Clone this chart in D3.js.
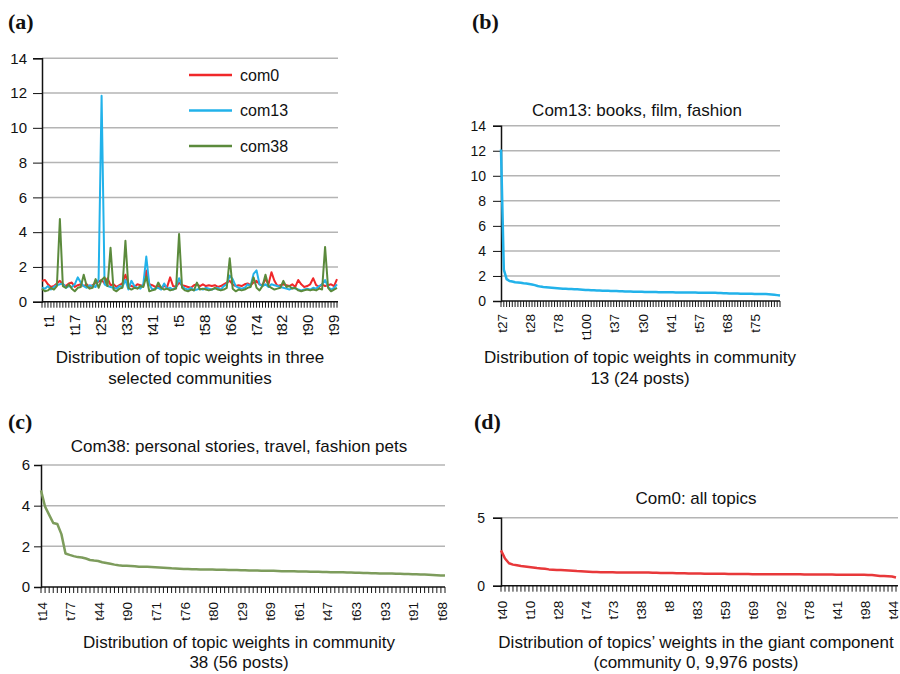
<!DOCTYPE html>
<html>
<head>
<meta charset="utf-8">
<script src="https://cdn.jsdelivr.net/npm/d3@7"></script>
<style>
body { margin: 0; background: #fff; }
svg { display: block; font-family: "Liberation Sans", Arial, sans-serif; }
</style>
</head>
<body>
<svg id="chart" width="900" height="674"></svg>
<script>
// topics t1..t100 in the spreadsheet's text order (t1, t10, t100, t11 ...)
var topics = d3.range(1, 101).map(function(i){ return "t" + i; }).sort();

var com0 = [1.2,1.25,1.0,0.85,0.9,1.05,1.2,1.0,0.9,1.05, 1.1,0.85,0.95,1.0,0.9,1.0,0.85,0.95,1.1,1.15,
	1.25,1.05,1.35,0.95,1.0,0.85,0.95,1.05,1.55,1.0, 0.9,0.85,1.0,0.95,0.9,1.8,1.0,0.95,0.85,0.9,
	0.8,0.9,0.85,1.4,0.9,0.85,1.1,0.95,0.9,0.85, 0.8,0.95,1.0,0.9,1.0,0.9,0.95,0.9,0.95,0.85,
	0.9,1.0,1.1,1.2,1.0,0.9,0.95,0.9,1.0,1.05, 0.95,1.1,1.2,1.0,0.95,1.3,1.0,1.7,1.2,0.9,
	0.95,1.0,0.95,0.9,1.0,0.85,1.25,1.0,0.85,0.9, 1.0,1.35,0.95,0.85,1.0,0.9,0.95,1.0,0.9,1.3];
var com13 = [0.8,0.75,0.9,0.7,0.85,0.95,1.0,1.05,0.8,0.9, 0.85,1.0,1.4,1.1,0.9,0.8,0.95,0.9,0.85,1.3,
	11.85,1.0,0.9,0.85,0.8,0.75,0.9,0.85,1.25,0.7, 1.2,0.9,0.8,0.75,1.0,2.6,1.0,0.7,0.75,0.8,
	0.7,1.05,0.75,0.8,0.7,0.85,1.35,0.9,0.75,0.7, 0.8,0.65,0.7,0.75,0.7,0.8,0.75,0.7,0.75,0.8,
	0.7,0.9,1.0,1.5,1.3,0.9,0.8,0.75,0.8,1.0, 0.9,1.6,1.8,1.0,0.9,1.0,0.85,1.0,0.95,0.9,
	0.85,0.8,0.75,0.7,0.8,0.75,0.7,0.65,0.7,0.75, 0.7,0.8,0.75,0.9,1.0,1.25,0.85,0.7,0.8,1.0];
var com38 = [0.75,0.6,0.65,0.8,0.7,0.9,4.75,0.9,0.8,1.0, 0.75,0.6,0.8,0.85,1.55,0.9,0.75,0.8,1.3,0.8,
	1.25,1.4,0.9,3.1,0.7,0.6,0.75,0.8,3.5,0.8, 0.7,0.8,0.75,0.9,0.85,1.45,0.6,0.65,0.7,1.1,
	0.8,0.7,0.75,0.65,0.7,0.75,3.9,0.8,0.65,0.6, 0.7,0.65,1.1,0.7,0.75,0.7,0.65,0.7,0.8,0.7,
	0.65,0.7,0.8,2.5,0.75,0.6,0.7,0.65,0.7,0.8, 0.85,1.4,0.8,0.65,0.9,1.55,0.9,0.8,0.7,0.75,
	0.8,1.2,0.85,0.9,0.75,0.8,0.65,0.6,0.65,0.7, 0.65,0.7,0.65,0.75,0.7,3.15,0.8,0.6,0.7,0.8];

// sorted weights per community
var ranked13 = [12.1,2.5,1.75,1.6,1.55,1.5,1.48,1.45,1.42,1.4, 1.36,1.32,1.27,1.2,1.15,1.12,1.1,1.08,1.06,1.04,
	1.02,1.0,0.98,0.97,0.96,0.95,0.94,0.93,0.92,0.9, 0.88,0.87,0.86,0.85,0.84,0.83,0.82,0.82,0.81,0.8,
	0.8,0.79,0.78,0.77,0.76,0.75,0.75,0.74,0.74,0.73, 0.73,0.72,0.72,0.72,0.71,0.71,0.7,0.7,0.7,0.69,
	0.69,0.69,0.68,0.68,0.68,0.68,0.67,0.67,0.67,0.67, 0.66,0.66,0.66,0.66,0.65,0.65,0.65,0.64,0.63,0.62,
	0.61,0.6,0.6,0.59,0.59,0.58,0.58,0.57,0.57,0.57, 0.56,0.56,0.56,0.55,0.55,0.54,0.52,0.5,0.47,0.44];
var ticks13 = ["t27","t28","t78","t100","t37","t30","t41","t57","t68","t75"];

var ranked38 = [4.75,3.95,3.55,3.15,3.1,2.6,1.65,1.58,1.52,1.47, 1.45,1.4,1.33,1.3,1.28,1.22,1.18,1.14,1.1,1.07,
	1.05,1.04,1.03,1.02,1.0,1.0,0.99,0.98,0.97,0.96, 0.95,0.94,0.92,0.91,0.9,0.89,0.88,0.87,0.87,0.86,
	0.86,0.86,0.86,0.85,0.85,0.85,0.84,0.84,0.83,0.82, 0.82,0.81,0.81,0.81,0.8,0.8,0.8,0.8,0.79,0.78,
	0.78,0.77,0.77,0.76,0.76,0.76,0.75,0.75,0.75,0.74, 0.74,0.73,0.73,0.72,0.72,0.71,0.71,0.7,0.7,0.69,
	0.69,0.68,0.68,0.67,0.67,0.66,0.66,0.65,0.65,0.64, 0.64,0.63,0.63,0.62,0.61,0.6,0.59,0.58,0.57,0.56];
var ticks38 = ["t14","t77","t44","t90","t71","t76","t80","t29","t69","t61","t47","t63","t93","t91","t68"];

var ranked0 = [2.6,2.0,1.65,1.55,1.5,1.45,1.42,1.38,1.34,1.3, 1.27,1.24,1.2,1.18,1.16,1.15,1.14,1.12,1.1,1.08,
	1.07,1.05,1.03,1.01,1.0,0.99,0.98,0.98,0.98,0.97, 0.97,0.97,0.97,0.97,0.97,0.97,0.97,0.97,0.95,0.95,
	0.94,0.94,0.93,0.93,0.92,0.92,0.91,0.9,0.9,0.89, 0.89,0.88,0.88,0.88,0.87,0.87,0.87,0.86,0.86,0.86,
	0.86,0.86,0.86,0.85,0.85,0.85,0.85,0.85,0.85,0.85, 0.85,0.85,0.85,0.84,0.84,0.84,0.83,0.83,0.83,0.83,
	0.82,0.82,0.82,0.82,0.81,0.81,0.81,0.8,0.8,0.8, 0.8,0.8,0.79,0.78,0.75,0.72,0.71,0.7,0.67,0.6];
var ticks0 = ["t40","t10","t28","t74","t73","t38","t8","t83","t59","t69","t92","t78","t41","t98","t44"];

var RED = "#f0282a", BLUE = "#22b2ea", GREEN = "#5b8a3c";

var svg = d3.select("#chart");

function panel(o){
	var g = svg.append("g");
	var n = o.n;
	var x = d3.scalePoint().domain(d3.range(n)).range([o.x0, o.x1]);
	var y = d3.scaleLinear().domain([0, o.ymax]).range([o.y0, o.y1]);
	// label positions (panel a puts its labels on a slightly narrower span)
	var lx = o.lblRange
		? d3.scalePoint().domain(d3.range(o.labels.length)).range(o.lblRange)
		: function(i){ return x(i * o.every); };

	// gridlines
	g.selectAll(".grid").data(o.yticks.filter(function(d){ return d > 0; }))
		.enter().append("line")
		.attr("x1", o.x0).attr("x2", o.gridEnd)
		.attr("y1", y).attr("y2", y)
		.attr("stroke", "#b4b4b4").attr("stroke-width", 1.5);

	// one small tick per category
	g.selectAll(".mt").data(d3.range(n)).enter().append("line")
		.attr("x1", x).attr("x2", x)
		.attr("y1", o.y0).attr("y2", o.y0 + 6)
		.attr("stroke", "#1a1a1a").attr("stroke-width", 1);
	g.append("line").attr("x1", o.x0).attr("x2", o.gridEnd)
		.attr("y1", o.y0).attr("y2", o.y0)
		.attr("stroke", "#111").attr("stroke-width", 1.5);

	var ya = g.append("g").attr("transform", "translate(" + o.x0 + ",0)")
		.call(d3.axisLeft(y).tickValues(o.yticks).tickSize(o.tickSize).tickPadding(o.tickPad).tickFormat(d3.format("d")));
	ya.select(".domain").attr("stroke", "#111").attr("stroke-width", 1.5);
	ya.selectAll(".tick line").attr("stroke", "#111");
	ya.selectAll("text").attr("font-size", o.yFont).attr("fill", "#111").attr("font-family", null);

	// x labels
	g.selectAll(".xl").data(o.labels).enter().append("text")
		.attr("transform", function(d, i){
			return "translate(" + (lx(i) + o.lblDx) + "," + (o.y0 + o.lblGap) + ") rotate(-90)";
		})
		.attr("text-anchor", "end").attr("dy", "0.35em")
		.attr("font-size", o.xFont).attr("fill", "#111")
		.text(function(d){ return d; });

	var line = d3.line().x(function(d, i){ return x(i); }).y(function(d){ return y(d); });
	o.series.forEach(function(s){
		g.append("path").datum(s.values)
			.attr("d", line).attr("fill", "none")
			.attr("stroke", s.color).attr("stroke-width", s.width)
			.attr("stroke-linejoin", "round");
	});

	if (o.title) {
		g.append("text").attr("x", o.titleX).attr("y", o.titleY)
			.attr("text-anchor", "middle").attr("font-size", 17).attr("fill", "#111")
			.text(o.title);
	}
	o.caption.forEach(function(c, i){
		g.append("text").attr("x", o.capX).attr("y", o.capY + i * o.capGap)
			.attr("text-anchor", "middle").attr("font-size", 17).attr("fill", "#111")
			.text(c);
	});
	svg.append("text").attr("x", o.tagX).attr("y", o.tagY)
		.attr("font-family", "'Liberation Serif', 'Times New Roman', serif")
		.attr("font-weight", "bold").attr("font-size", 22).attr("fill", "#111")
		.text(o.tag);
	return {x: x, y: y, g: g};
}

// (a)
var pa = panel({
	n: topics.length, x0: 42, x1: 337, gridEnd: 338, y0: 301.7, y1: 58.3, ymax: 14,
	yticks: d3.range(0, 15, 2), tickSize: 9, tickPad: 6, yFont: 15,
	labels: topics.filter(function(d, i){ return i % 9 === 0; }), every: 9,
	lblRange: [49, 334], lblDx: 0, lblGap: 13, xFont: 15,
	series: [{values: com0, color: RED, width: 2}, {values: com13, color: BLUE, width: 2}, {values: com38, color: GREEN, width: 2}],
	caption: ["Distribution of topic weights in three", "selected communities"], capX: 190, capY: 363, capGap: 21,
	tag: "(a)", tagX: 8, tagY: 29
});
var legend = [{name: "com0", color: RED}, {name: "com13", color: BLUE}, {name: "com38", color: GREEN}];
legend.forEach(function(l, i){
	var ly = 75 + i * 35.5;
	pa.g.append("line").attr("x1", 189).attr("x2", 232).attr("y1", ly).attr("y2", ly)
		.attr("stroke", l.color).attr("stroke-width", 2.5);
	pa.g.append("text").attr("x", 240).attr("y", ly).attr("dy", "0.35em")
		.attr("font-size", 16).attr("fill", "#111").text(l.name);
});

// (b)
panel({
	n: ranked13.length, x0: 501, x1: 780, gridEnd: 780, y0: 301, y1: 125.7, ymax: 14,
	yticks: d3.range(0, 15, 2), tickSize: 8, tickPad: 7, yFont: 14,
	labels: ticks13, every: 10, lblDx: 1, lblGap: 13, xFont: 13.5,
	series: [{values: ranked13, color: BLUE, width: 2.5}],
	title: "Com13: books, film, fashion", titleX: 637, titleY: 116,
	caption: ["Distribution of topic weights in community", "13 (24 posts)"], capX: 640, capY: 363, capGap: 21,
	tag: "(b)", tagX: 472, tagY: 29
});

// (c)
panel({
	n: ranked38.length, x0: 41, x1: 445, gridEnd: 445, y0: 587, y1: 465, ymax: 6,
	yticks: [0, 2, 4, 6], tickSize: 7, tickPad: 4, yFont: 15,
	labels: ticks38, every: 7, lblDx: 1, lblGap: 15, xFont: 13.5,
	series: [{values: ranked38, color: "#7d9c5c", width: 2.5}],
	title: "Com38: personal stories, travel, fashion pets", titleX: 239, titleY: 452,
	caption: ["Distribution of topic weights in community", "38 (56 posts)"], capX: 239, capY: 648, capGap: 20,
	tag: "(c)", tagX: 8, tagY: 429
});

// (d)
panel({
	n: ranked0.length, x0: 501, x1: 896, gridEnd: 898, y0: 585.7, y1: 517.7, ymax: 5,
	yticks: [0, 5], tickSize: 8, tickPad: 8, yFont: 14,
	labels: ticks0, every: 7, lblDx: 1, lblGap: 15, xFont: 13.5,
	series: [{values: ranked0, color: "#e8383a", width: 2.5}],
	title: "Com0: all topics", titleX: 696, titleY: 504,
	caption: ["Distribution of topics\u2019 weights in the giant component", "(community 0, 9,976 posts)"], capX: 696, capY: 648, capGap: 20,
	tag: "(d)", tagX: 474, tagY: 429
});
</script>
</body>
</html>
